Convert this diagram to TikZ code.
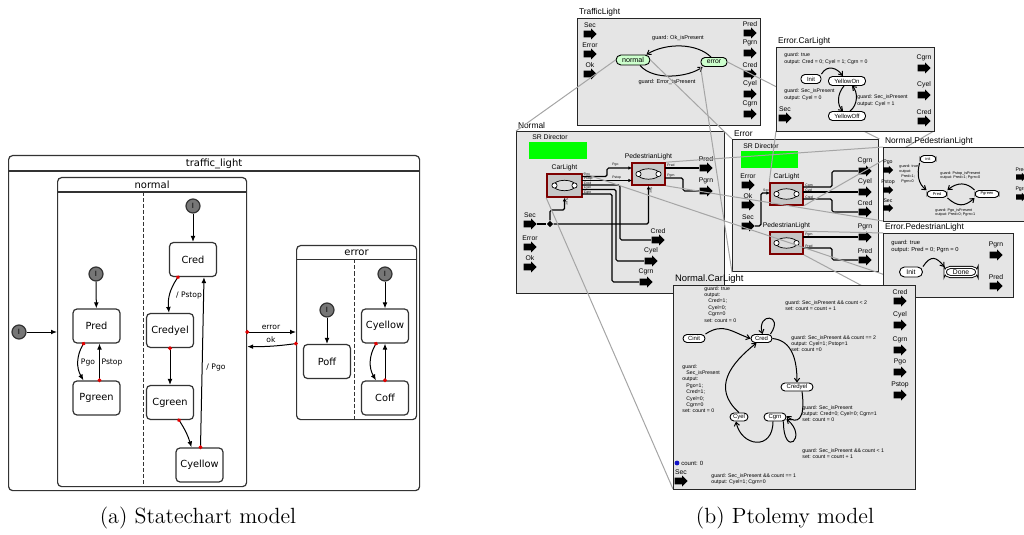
\documentclass[tikz,border=0pt]{standalone}
\usepackage{fontspec}
\usepackage{xcolor}
\usepackage{tikz}
\usetikzlibrary{arrows.meta,calc,shapes.geometric}

\newfontfamily\scfont{DejaVu Sans}
\newfontfamily\ptfont{Liberation Sans}
\newcommand\scsz[1]{\scfont\fontsize{#1}{#1}\selectfont}
\newcommand\ptsz[2]{\ptfont\fontsize{#1}{#2}\selectfont}
% block arrow of a port: half length, head half height, shaft half height
\newcommand\portshape[3]{%
  \coordinate (pc) at (path picture bounding box.center);
  \fill[black] ([shift={(-#1,#3)}]pc) -- ([shift={(#1-#2,#3)}]pc) -- ([shift={(#1-#2,#2)}]pc)
    -- ([shift={(#1,0pt)}]pc) -- ([shift={(#1-#2,-#2)}]pc) -- ([shift={(#1-#2,-#3)}]pc)
    -- ([shift={(-#1,-#3)}]pc) -- cycle;}

\definecolor{scgray}{RGB}{118,118,118}
\definecolor{scred}{RGB}{225,0,0}
\definecolor{ptfill}{RGB}{229,229,229}
\definecolor{actgray}{RGB}{198,198,198}
\definecolor{ptred}{RGB}{125,0,0}
\definecolor{ptgreen}{RGB}{0,255,0}
\definecolor{ptstatefill}{RGB}{205,255,205}
\definecolor{ptline}{RGB}{165,165,165}
\definecolor{ptblue}{RGB}{20,20,200}

\tikzset{
  % statechart
  scbox/.style={draw=black!80, line width=0.6pt, rounded corners=2pt, anchor=north west, inner sep=0pt},
  scline/.style={draw=black!80, line width=0.6pt},
  sctitle/.style={font=\scsz{5}, inner sep=0pt},
  scstate/.style={draw=black!80, line width=0.6pt, rounded corners=2pt, minimum width=23.5pt, minimum height=17pt, inner sep=0pt, font=\scsz{4.9}},
  scinit/.style={circle, draw=black!80, line width=0.6pt, fill=scgray, minimum size=7pt, inner sep=0pt, font=\scsz{3.6}},
  scarrow/.style={line width=0.5pt, -{Latex[length=3pt,width=2.4pt]}},
  sctrans/.style={line width=0.5pt, {Circle[length=1.9pt,color=scred]}-{Latex[length=3pt,width=2.4pt]}, shorten <=-0.9pt},
  sclabel/.style={font=\scsz{3.8}, inner sep=0.5pt},
  scdash/.style={draw=black!80, line width=0.5pt, dash pattern=on 2pt off 1pt},
  % ptolemy
  ptbox/.style={draw=black!85, line width=0.7pt, fill=ptfill, anchor=north west, inner sep=0pt},
  pttitle/.style={anchor=south west, inner sep=0.8pt, font=\ptsz{4.2}{5}},
  ptdir/.style={fill=ptgreen, anchor=north west, inner sep=0pt},
  ptdirlab/.style={anchor=west, inner sep=0pt, font=\ptsz{3.4}{4}},
  ptactor/.style={draw=ptred, line width=0.8pt, fill=actgray, inner sep=0pt, path picture={
      \draw[draw=black, fill=actgray!60!white, line width=0.35pt] (path picture bounding box.center) ellipse (5.5pt and 2.6pt);
      \draw[draw=black, fill=white, line width=0.35pt] ([xshift=-5pt]path picture bounding box.center) circle (1.3pt);
      \draw[draw=black, fill=white, line width=0.35pt] ([xshift=5pt]path picture bounding box.center) circle (1.3pt);}},
  ptalab/.style={font=\ptsz{3.4}{4}, inner sep=0.8pt},
  ptport/.style={minimum width=6.5pt, minimum height=5.5pt, inner sep=0pt, path picture={\portshape{3.25pt}{2.75pt}{1.7pt}}},
  ptports/.style={minimum width=5pt, minimum height=4.2pt, inner sep=0pt, path picture={\portshape{2.5pt}{2.1pt}{1.3pt}}},
  ptplab/.style={font=\ptsz{3.4}{4}, inner sep=0.3pt},
  ptplabs/.style={font=\ptsz{2.6}{3}, inner sep=0.3pt},
  ptwire/.style={line width=0.6pt, rounded corners=0.8pt},
  ptin/.style={ptwire, -{Latex[length=1.8pt,width=1.8pt]}},
  pttiny/.style={font=\ptsz{1.7}{2}, inner sep=0pt, anchor=west},
  ptstate/.style={draw, line width=0.45pt, fill=white, rounded corners=2pt, inner sep=0pt, minimum height=4pt, font=\ptsz{3}{3.5}},
  ptedge/.style={line width=0.5pt, -{Straight Barb[length=1.8pt,width=2.6pt]}},
  ptlab/.style={inner sep=0pt, font=\ptsz{2.8}{3.4}},
  ptguard/.style={anchor=north west, align=left, inner sep=0pt, font=\ptsz{2.6}{3.2}},
  ptzoom/.style={draw=ptline, line width=0.5pt},
  ptjunc/.style={diamond, fill=black, inner sep=0pt, minimum size=3.2pt},
  capt/.style={font=\fontsize{11}{13}\selectfont, inner sep=0pt}
}

\begin{document}
\begin{tikzpicture}[x=0.5pt,y=-0.5pt]
\useasboundingbox (0,0) rectangle (1024,535);

% ---------------- (a) statechart model ----------------
\node[scbox, minimum width=205.5pt, minimum height=167.5pt] (tl) at (8,155) {};
\draw[scline] ($(tl.north west)+(0,16)$) -- ($(tl.north east)+(0,16)$);
\node[sctitle] (tlt) at ($(tl.north)+(0,8.5)$) {traffic\_light};

\node[scbox, minimum width=94.5pt, minimum height=154.5pt] (normal) at (57,177) {};
\draw[scline] ($(normal.north west)+(0,15)$) -- ($(normal.north east)+(0,15)$);
\node[sctitle] (normalt) at ($(normal.north)+(0,8)$) {normal};
\draw[scdash] ($(normal.north west)+(86,15)$) -- ($(normal.south west)+(86,0)$);

\node[scbox, minimum width=60pt, minimum height=87pt] (error) at (296,245) {};
\draw[scline] ($(error.north west)+(0,14.5)$) -- ($(error.north east)+(0,14.5)$);
\node[sctitle] (errort) at ($(error.north)+(0,7.5)$) {error};
\draw[scdash] ($(error.north west)+(58,14.5)$) -- ($(error.south west)+(58,0)$);

\node[scinit] (i0) at (19,332) {I};
\node[scinit] (pi) at (96,274) {I};
\node[scstate] (pred) at (96.5,326) {Pred};
\node[scstate] (pgreen) at (96.5,398) {Pgreen};
\node[scinit] (ci) at (193,206) {I};
\node[scstate] (cred) at (193,259.5) {Cred};
\node[scstate] (credyel) at (170,330.5) {Credyel};
\node[scstate] (cgreen) at (170,402.5) {Cgreen};
\node[scstate] (cyellow) at (199.5,465) {Cyellow};
\node[scinit] (ei1) at (327,310) {I};
\node[scstate] (poff) at (327,361.5) {Poff};
\node[scinit] (ei2) at (385,274) {I};
\node[scstate] (ecyellow) at (385,326) {Cyellow};
\node[scstate] (coff) at (385,398) {Coff};

\draw[scarrow] (i0) -- (i0 -| normal.west);
\draw[scarrow] (pi) -- (pred);
\draw[scarrow] (ci) -- (cred);
\draw[scarrow] (ei1) -- (poff);
\draw[scarrow] (ei2) -- (ecyellow);
\draw[sctrans] ($(pred.south)+(-13,0)$) to[bend right=30] ($(pgreen.north)+(-13,0)$);
\draw[sctrans] ($(pgreen.north)+(3,0)$) -- ($(pred.south)+(3,0)$);
\draw[sctrans] ($(cred.south)+(-15,0)$) to[bend right=20] ($(credyel.north)+(-1,0)$);
\draw[sctrans] (credyel.south) -- (cgreen.north);
\draw[sctrans] ($(cgreen.south)+(9,0)$) to[bend left=8] ($(cyellow.north)+(-8,0)$);
\draw[sctrans] ($(cyellow.north)+(1,0)$) -- ($(cred.south)+(11,0)$);
\draw[sctrans] ($(ecyellow.south)+(-9,0)$) to[bend right=30] ($(coff.north)+(-9,0)$);
\draw[sctrans] (coff.north) -- (ecyellow.south);
\draw[sctrans] (normal.east |- i0) -- (error.west |- i0);
\draw[sctrans] ($(error.west)+(0,11)$) to[bend left=4] ($(normal.east)+(0,14.5)$);

\node[sclabel] (lpgo) at (88,363) {Pgo};
\node[sclabel] (lpstop) at (112,363) {Pstop};
\node[sclabel] (lcpstop) at (189,296) {/ Pstop};
\node[sclabel] (lcpgo) at (216,368) {/ Pgo};
\node[sclabel, anchor=south] (lerr) at (271,331.5) {error};
\node[sclabel, anchor=south] (lok) at (271,344.5) {ok};

% ---------------- (b) ptolemy model ----------------
% top level
\node[ptbox, minimum width=91.5pt, minimum height=53.5pt] (TL) at (577,18) {};
\node[pttitle] (TLt) at (TL.north west) {TrafficLight};
\node[ptport, label={[ptplab]above:Sec}] (tlsec) at (590,34) {};
\node[ptport, label={[ptplab]above:Error}] (tlerr) at (590,54) {};
\node[ptport, label={[ptplab]above:Ok}] (tlok) at (590,74) {};
\node[ptport, label={[ptplab]above:Pred}] (tlpred) at (750,33) {};
\node[ptport, label={[ptplab]above:Pgrn}] (tlpgrn) at (750,53) {};
\node[ptport, label={[ptplab]above:Cred}] (tlcred) at (750,74) {};
\node[ptport, label={[ptplab]above:Cyel}] (tlcyel) at (750,94) {};
\node[ptport, label={[ptplab]above:Cgrn}] (tlcgrn) at (750,114) {};
\node[ptstate, fill=ptstatefill, minimum width=17pt, minimum height=5pt, rounded corners=2.5pt, font=\ptsz{3.6}{4}] (tlnormal) at (633,60) {normal};
\node[ptstate, fill=ptstatefill, minimum width=13pt, minimum height=4.5pt, font=\ptsz{3.4}{4}] (tlerror) at (714,62) {error};
\draw[ptedge] ($(tlnormal.south)+(7,0)$) .. controls +(14,16) and +(-14,10) .. ($(tlerror.south west)+(2,0)$);
\draw[ptedge] ($(tlerror.north)+(-3,0)$) .. controls +(-14,-14) and +(20,-12) .. ($(tlnormal.north east)+(-4,0)$);
\node[ptlab] (tlg1) at (678,38) {guard: Ok\_isPresent};
\node[ptlab] (tlg2) at (667,82) {guard: Error\_isPresent};

% Normal refinement
\node[ptbox, minimum width=104pt, minimum height=81pt] (NB) at (516,131) {};
\node[pttitle] (NBt) at (NB.north west) {Normal};
\node[ptdirlab] (nsr) at (532,137) {SR Director};
\node[ptdir, minimum width=29pt, minimum height=8.5pt] (ndir) at (529,142) {};
\node[ptactor, minimum width=17.5pt, minimum height=11.5pt, label={[ptalab]above:CarLight}] (ncar) at (564.5,185.5) {};
\node[ptactor, minimum width=16.5pt, minimum height=11pt, label={[ptalab]above:PedestrianLight}] (nped) at (648.5,174) {};
\coordinate (ncpgo) at (582,176.5);
\coordinate (ncpstop) at (582,180.5);
\coordinate (nccred) at (582,185);
\coordinate (nccyel) at (582,189.5);
\coordinate (nccgrn) at (582,194);
\coordinate (nppgo) at (632,168);
\coordinate (nppstop) at (632,180.5);
\coordinate (nppred) at (665,168);
\coordinate (nppgrn) at (665,178);
\node[pttiny] (tncpgo) at (583.5,175) {Pgo};
\node[pttiny] (tncpstop) at (583.5,179) {Pstop};
\node[pttiny] (tnccred) at (583.5,183.5) {Cred};
\node[pttiny] (tnccyel) at (583.5,188) {Cyel};
\node[pttiny] (tnccgrn) at (583.5,192.5) {Cgrn};
\node[pttiny] (tnppgo) at (612,165) {Pgo};
\node[pttiny] (tnppstop) at (612,177.5) {Pstop};
\node[pttiny] (tnppred) at (667,165.5) {Pred};
\node[pttiny] (tnppgrn) at (667,175.5) {Pgrn};
\node[pttiny, rotate=-90] (tncsec) at (567,198.5) {Sec};
\node[pttiny, rotate=-90] (tnpsec) at (651,187) {Sec};
\node[ptport, label={[ptplab]above:Sec}] (nisec) at (530,224) {};
\node[ptport, label={[ptplab]above:Error}] (nierr) at (530,247) {};
\node[ptport, label={[ptplab]above:Ok}] (niok) at (530,267) {};
\node[ptport, label={[ptplab]above:Pred}] (nopred) at (706,168) {};
\node[ptport, label={[ptplab]above:Pgrn}] (nopgrn) at (706,191) {};
\node[ptport, label={[ptplab]above:Cred}] (nocred) at (658,240) {};
\node[ptport, label={[ptplab]above:Cyel}] (nocyel) at (651,261) {};
\node[ptport, label={[ptplab]above:Cgrn}] (nocgrn) at (646,282) {};
\node[ptjunc] (njunc) at (550,224) {};
\draw[ptin] (ncpgo) -- ++(25,0) |- (nppgo);
\draw[ptin] (ncpstop) -- (nppstop);
\draw[ptwire] (nppred) -- (nopred.west);
\draw[ptwire] (nppgrn) -- ++(18,0) |- (nopgrn.west);
\draw[ptwire] (nisec.east) -- (njunc);
\draw[ptin] (njunc) -| (nped.south);
\draw[ptin] (njunc) -- ++(0,-14) -| (ncar.south);
\draw[ptwire] (nccred) -- ++(38,0) |- (nocred.west);
\draw[ptwire] (nccyel) -- ++(34,0) |- (nocyel.west);
\draw[ptwire] (nccgrn) -- ++(30,0) |- (nocgrn.west);

% Error refinement
\node[ptbox, minimum width=73pt, minimum height=66pt] (EB) at (732,139) {};
\node[pttitle] (EBt) at (EB.north west) {Error};
\node[ptdirlab] (esr) at (743,146) {SR Director};
\node[ptdir, minimum width=28.5pt, minimum height=8.5pt] (edir) at (741,151) {};
\node[ptactor, minimum width=16.5pt, minimum height=11pt, label={[ptalab]above:CarLight}] (ecar) at (786.5,194) {};
\node[ptactor, minimum width=16.5pt, minimum height=11pt, label={[ptalab]above:PedestrianLight}] (eped) at (786.5,243) {};
\coordinate (ecsec) at (770,193);
\coordinate (eccgrn) at (803,187);
\coordinate (eccyel) at (803,192);
\coordinate (eccred) at (803,199);
\coordinate (eppgrn) at (803,237);
\coordinate (eppred) at (803,248);
\node[pttiny, anchor=east] (tecsec) at (769.5,190.5) {Sec};
\node[pttiny] (teccgrn) at (805,185.5) {Cgrn};
\node[pttiny] (teccyel) at (805,190.5) {Cyel};
\node[pttiny] (teccred) at (805,197) {Cred};
\node[pttiny] (teppgrn) at (805,235) {Pgrn};
\node[pttiny] (teppred) at (805,246) {Pred};
\node[ptport, label={[ptplab]above:Error}] (eierr) at (748,185) {};
\node[ptport, label={[ptplab]above:Ok}] (eiok) at (748,205) {};
\node[ptport, label={[ptplab]above:Sec}] (eisec) at (748,226) {};
\node[ptport, label={[ptplab]above:Cgrn}] (eocgrn) at (865,171) {};
\node[ptport, label={[ptplab]above:Cyel}] (eocyel) at (865,192) {};
\node[ptport, label={[ptplab]above:Cred}] (eocred) at (865,212) {};
\node[ptport, label={[ptplab]above:Pgrn}] (eopgrn) at (865,237) {};
\node[ptport, label={[ptplab]above:Pred}] (eopred) at (865,260) {};
\draw[ptin] (eisec.east) -- ++(6,0) |- (ecsec);
\draw[ptwire] (eccgrn) -- ++(29,0) |- (eocgrn.west);
\draw[ptwire] (eccyel) -- (eocyel.west);
\draw[ptwire] (eccred) -- ++(29,0) |- (eocred.west);
\draw[ptwire] (eppgrn) -- (eopgrn.west);
\draw[ptwire] (eppred) -- ++(29,0) |- (eopred.west);

% look-inside lines
\draw[ptzoom] (tlnormal.west) -- (NB.north west);
\draw[ptzoom] (tlnormal.east) -- (EB.north west);
\draw[ptzoom] (tlerror.south west) -- (EB.south west);
\draw[ptzoom] (tlerror.east) -- (EB.north east);
\draw[ptzoom] (ncar.south west) -- (673,489);
\draw[ptzoom] (ncar.north east) -- (915,285);
\draw[ptzoom] (nped.north east) -- (883,147);
\draw[ptzoom] (nped.south east) -- (883,221);
\draw[ptzoom] (ecar.north west) -- (776,131);
\draw[ptzoom] (ecar.south east) -- (934,131);
\draw[ptzoom] (eped.north east) -- (883,233);
\draw[ptzoom] (eped.south east) -- (883,297);

% Error.CarLight
\node[ptbox, minimum width=79pt, minimum height=42pt] (ECL) at (776,47) {};
\node[pttitle] (ECLt) at (ECL.north west) {Error.CarLight};
\node[ptguard] (eclg0) at (784,52.5) {guard: true\\output: Cred = 0; Cyel = 1; Cgrn = 0};
\node[ptstate, minimum width=10pt, minimum height=4.5pt] (ecinit) at (811,79) {Init};
\node[ptstate, minimum width=18.5pt, minimum height=4.5pt] (ecyon) at (847,81) {YellowOn};
\node[ptstate, minimum width=18.5pt, minimum height=4.5pt] (ecyoff) at (847,116) {YellowOff};
\draw[ptedge] (ecinit.north east) .. controls +(6,-10) and +(-6,-8) .. ($(ecyon.north)+(-4,0)$);
\draw[ptedge] ($(ecyon.south)+(-3,0)$) .. controls +(-7,8) and +(-6,-6) .. ($(ecyoff.north)+(-4,0)$);
\draw[ptedge] ($(ecyoff.north)+(3,0)$) .. controls +(8,-6) and +(6,6) .. ($(ecyon.south)+(5,0)$);
\node[ptguard] (eclg1) at (784,88.5) {guard: Sec\_isPresent\\output: Cyel = 0};
\node[ptguard] (eclg2) at (857,94.5) {guard: Sec\_isPresent\\output: Cyel = 1};
\node[ptport, label={[ptplab]above:Sec}] (eclsec) at (785,118) {};
\node[ptport, label={[ptplab]above:Cgrn}] (eclcgrn) at (924,68) {};
\node[ptport, label={[ptplab]above:Cyel}] (eclcyel) at (924,95) {};
\node[ptport, label={[ptplab]above:Cred}] (eclcred) at (924,121) {};

% Normal.PedestrianLight
\node[ptbox, minimum width=75pt, minimum height=37pt] (NPL) at (883,147) {};
\node[pttitle] (NPLt) at (NPL.north west) {Normal.PedestrianLight};
\node[ptstate, minimum width=8pt, minimum height=3.5pt, font=\ptsz{2}{2.4}] (npinit) at (928,159) {init};
\node[ptstate, minimum width=10pt, minimum height=3.5pt, font=\ptsz{2}{2.4}] (nppred) at (937,194) {Pred};
\node[ptstate, minimum width=12pt, minimum height=3.5pt, font=\ptsz{2}{2.4}] (nppgreen) at (987,194) {Pgreen};
\draw[ptedge] (npinit.south west) .. controls +(-3,12) and +(-8,-6) .. (nppred.north west);
\draw[ptedge] (nppgreen.north west) .. controls +(-8,-8) and +(10,-8) .. (nppred.north east);
\draw[ptedge] (nppred.south east) .. controls +(10,9) and +(-10,9) .. (nppgreen.south west);
\node[ptguard, font=\ptsz{1.9}{2.4}] (nplg0) at (899,164.5) {guard: true\\output:\\\hspace{1pt}Pred=1;\\\hspace{1pt}Pgrn=0};
\node[ptguard, font=\ptsz{1.9}{2.4}] (nplg1) at (940,171) {guard: Pstop\_isPresent\\output: Pred=1; Pgrn=0};
\node[ptguard, font=\ptsz{1.9}{2.4}] (nplg2) at (935,208) {guard: Pgo\_isPresent\\output: Pred=0; Pgrn=1};
\node[ptports, label={[ptplabs]above:Pgo}] (nplpgo) at (888,170) {};
\node[ptports, label={[ptplabs]above:Pstop}] (nplpstop) at (888,190) {};
\node[ptports, label={[ptplabs]above:Sec}] (nplsec) at (888,208) {};
\node[ptports, label={[ptplabs]above:Pred}] (nplpred) at (1021,177) {};
\node[ptports, label={[ptplabs]above:Pgrn}] (nplpgrn) at (1021,197) {};

% Error.PedestrianLight
\node[ptbox, minimum width=65pt, minimum height=32pt] (EPL) at (883,233) {};
\node[pttitle] (EPLt) at (EPL.north west) {Error.PedestrianLight};
\node[ptguard, font=\ptsz{2.9}{3.5}] (eplg0) at (891,239.5) {guard: true\\output: Pred = 0; Pgrn = 0};
\node[ptstate, minimum width=11.5pt, minimum height=5pt, rounded corners=2.5pt, font=\ptsz{3.4}{4}] (epinit) at (911,272) {Init};
\node[ptstate, minimum width=16pt, minimum height=4.5pt, rounded corners=2.5pt, double, double distance=0.6pt, font=\ptsz{3.4}{4}] (epdone) at (961,272) {Done};
\draw[ptedge] (epinit.north east) .. controls +(8,-12) and +(-8,-10) .. (epdone.north west);
\node[ptport, label={[ptplab]above:Pgrn}] (eplpgrn) at (996,255) {};
\node[ptport, label={[ptplab]above:Pred}] (eplpred) at (996,286) {};

% Normal.CarLight
\node[ptbox, minimum width=121pt, minimum height=102pt] (NCL) at (673,285) {};
\node[pttitle, font=\ptsz{4.7}{5.5}] (NCLt) at (NCL.north west) {Normal.CarLight};
\node[ptguard] (nclg0) at (704,286) {guard: true\\output:\\\hspace{2pt}Cred=1;\\\hspace{2pt}Cyel=0;\\\hspace{2pt}Cgrn=0\\set: count = 0};
\node[ptguard] (nclg1) at (785,300) {guard: Sec\_isPresent \&\& count < 2\\set: count = count + 1};
\node[ptguard] (nclg2) at (791,335) {guard: Sec\_isPresent \&\& count == 2\\output: Cyel=1; Pstop=1\\set: count =0};
\node[ptguard] (nclg3) at (682,364) {guard:\\\hspace{2pt}Sec\_isPresent\\output:\\\hspace{2pt}Pgo=1;\\\hspace{2pt}Cred=1;\\\hspace{2pt}Cyel=0;\\\hspace{2pt}Cgrn=0\\set: count = 0};
\node[ptguard] (nclg4) at (802,405) {guard: Sec\_isPresent\\output: Cred=0; Cyel=0; Cgrn=1\\set: count = 0};
\node[ptguard] (nclg5) at (802,448) {guard: Sec\_isPresent \&\& count < 1\\set: count = count + 1};
\node[ptguard] (nclg6) at (711,473) {guard: Sec\_isPresent \&\& count == 1\\output: Cyel=1; Cgrn=0};
\node[circle, fill=ptblue, inner sep=0pt, minimum size=2.4pt] (ncldot) at (677,463) {};
\node[ptguard, anchor=west, font=\ptsz{3}{3.5}] (nclcount) at (681,463) {count: 0};
\node[ptstate, minimum width=11pt] (cinit) at (694,338.5) {Cinit};
\node[ptstate, minimum width=10.5pt] (ncred) at (761.5,338.5) {Cred};
\node[ptstate, minimum width=16pt] (ncredyel) at (797,387) {Credyel};
\node[ptstate, minimum width=9pt] (ncyel) at (739,417) {Cyel};
\node[ptstate, minimum width=11pt] (ncgrn) at (775,417) {Cgrn};
\draw[ptedge] (cinit.north east) .. controls +(18,-12) and +(-18,-6) .. (ncred.west);
\draw[ptedge] ($(ncred.north east)+(-2,0)$) .. controls +(14,-20) and +(-6,-22) .. ($(ncred.north)+(1,0)$);
\draw[ptedge] (ncyel.north) .. controls +(-28,-25) and +(-25,20) .. ($(ncred.south)+(-5,0)$);
\draw[ptedge] ($(ncgrn.south)+(-2,0)$) .. controls +(0,30) and +(5,25) .. ($(ncyel.south)+(-3,0)$);
\draw[ptedge] (ncred.east) .. controls +(20,2) and +(0,-22) .. (ncredyel.north);
\draw[ptedge] ($(ncredyel.south)+(5,0)$) .. controls +(4,30) and +(10,8) .. ($(ncgrn.east)+(0,-1)$);
\draw[ptedge] ($(ncgrn.south east)+(-3,0)$) .. controls +(0,38) and +(22,18) .. ($(ncgrn.east)+(0,2)$);
\node[ptport, label={[ptplab]above:Sec}] (nclsec) at (681,481) {};
\node[ptport, label={[ptplab]above:Cred}] (nclcred) at (900,301) {};
\node[ptport, label={[ptplab]above:Cyel}] (nclcyel) at (900,325) {};
\node[ptport, label={[ptplab]above:Cgrn}] (nclcgrn) at (900,350) {};
\node[ptport, label={[ptplab]above:Pgo}] (nclpgo) at (900,372) {};
\node[ptport, label={[ptplab]above:Pstop}] (nclpstop) at (900,395) {};

% captions
\node[capt] (capa) at (198,518) {(a) Statechart model};
\node[capt] (capb) at (785,518) {(b) Ptolemy model};
\end{tikzpicture}
\end{document}
